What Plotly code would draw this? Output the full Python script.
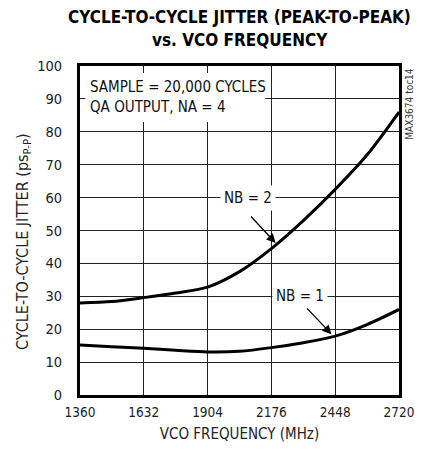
import plotly.graph_objects as go

# VCO frequency (MHz)
freq = [1360, 1496, 1632, 1768, 1904, 2040, 2176, 2312, 2448, 2584, 2720]
# cycle-to-cycle jitter, ps P-P
jitter_nb2 = [28.0, 28.4, 29.6, 31.0, 32.8, 37.5, 44.5, 53.0, 62.5, 73.0, 86.0]
jitter_nb1 = [15.2, 14.7, 14.2, 13.6, 13.1, 13.3, 14.4, 15.9, 17.9, 21.4, 26.0]

x_ticks = [1360, 1632, 1904, 2176, 2448, 2720]
y_ticks = [0, 10, 20, 30, 40, 50, 60, 70, 80, 90, 100]

FONT = "DejaVu Sans Condensed"
TXT = dict(family=FONT, size=15, color='#111')

fig = go.Figure()

for ys in (jitter_nb2, jitter_nb1):
    fig.add_trace(
        go.Scatter(
            x=freq,
            y=ys,
            mode='lines',
            line=dict(color='black', width=3, shape='spline', smoothing=0.8),
            showlegend=False,
            hoverinfo='skip'
        )
    )

# white box behind the conditions text
fig.add_shape(
    type='rect', xref='x', yref='y',
    x0=1383, x1=2150, y0=83, y1=97.9,
    fillcolor='white', line=dict(width=0), layer='above'
)

fig.add_annotation(
    x=1392, y=90.5, xref='x', yref='y',
    text='SAMPLE = 20,000 CYCLES<br>QA OUTPUT, NA = 4',
    showarrow=False, align='left', xanchor='left', yanchor='middle',
    font=TXT
)

# curve labels
fig.add_annotation(x=2076, y=60, text='NB = 2', showarrow=False,
                   bgcolor='white', borderpad=3, font=TXT)
fig.add_annotation(x=2300, y=30, text='NB = 1', showarrow=False,
                   bgcolor='white', borderpad=3, font=TXT)

# arrows
fig.add_annotation(
    x=2194, y=46.2, ax=2083, ay=54.7, xref='x', yref='y', axref='x', ayref='y',
    text='', showarrow=True, arrowhead=2, arrowsize=1.4, arrowwidth=1.3, arrowcolor='black'
)
fig.add_annotation(
    x=2432, y=18.5, ax=2322, ay=26.8, xref='x', yref='y', axref='x', ayref='y',
    text='', showarrow=True, arrowhead=2, arrowsize=1.4, arrowwidth=1.3, arrowcolor='black'
)

# figure id on the right edge
fig.add_annotation(
    x=1.033, y=88.4, xref='paper', yref='y', xanchor='center', yanchor='middle',
    text='MAX3674 toc14', textangle=-90, showarrow=False,
    font=dict(family=FONT, size=10, color='#333')
)

# title, two centred lines
fig.add_annotation(
    x=0.5, y=1.148, xref='paper', yref='paper', xanchor='center', yanchor='middle',
    text='<b>CYCLE-TO-CYCLE JITTER (PEAK-TO-PEAK)</b>', showarrow=False,
    font=dict(family=FONT, size=17, color='black')
)
fig.add_annotation(
    x=0.5, y=1.080, xref='paper', yref='paper', xanchor='center', yanchor='middle',
    text='<b>vs. VCO FREQUENCY</b>', showarrow=False,
    font=dict(family=FONT, size=17, color='black')
)

# y axis title
fig.add_annotation(
    x=-0.179, y=0.468, xref='paper', yref='paper', xanchor='center', yanchor='middle',
    text='CYCLE-TO-CYCLE JITTER (ps<sub>P-P</sub>)', textangle=-90, showarrow=False,
    font=dict(family=FONT, size=16, color='#222')
)

# page body adds 8px margin, so the figure is 8px smaller than the window
fig.update_layout(
    width=418,
    height=450,
    margin=dict(l=72, r=16, t=58, b=63),
    paper_bgcolor='white',
    plot_bgcolor='white',
    font=dict(family=FONT, size=14.5, color='#222'),
    xaxis=dict(
        range=[1360, 2720], tickvals=x_ticks, tickmode='array',
        showgrid=True, gridcolor='#222', gridwidth=1,
        showline=True, linecolor='black', linewidth=3, mirror=True,
        zeroline=False, ticks='outside', ticklen=3, tickcolor='white',
        tickfont=dict(size=13.5),
        title=dict(text='VCO FREQUENCY (MHz)', standoff=10, font=dict(size=15))
    ),
    yaxis=dict(
        range=[0, 100], tickvals=y_ticks, tickmode='array',
        showgrid=True, gridcolor='#222', gridwidth=1,
        showline=True, linecolor='black', linewidth=3, mirror=True,
        zeroline=False, ticks='outside', ticklen=12, tickcolor='white'
    )
)

fig.write_html("out.html")
